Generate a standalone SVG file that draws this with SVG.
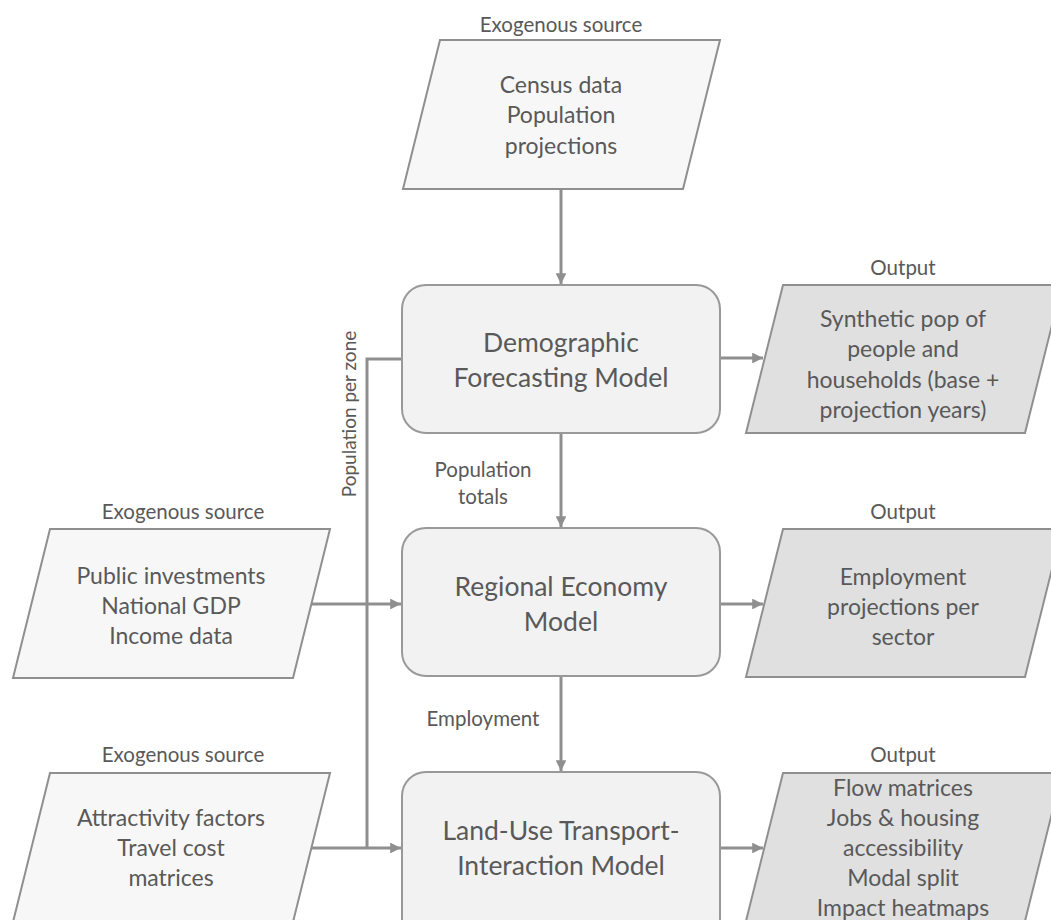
<svg xmlns="http://www.w3.org/2000/svg" width="1051" height="920" viewBox="0 0 1051 920">
  <style>
    text { font-family: Lato, "Open Sans", "Liberation Sans", sans-serif; fill: #595959; text-anchor: middle; }
    .cap { font-size: 20.5px; }
    .side { font-size: 19px; }
    .body { font-size: 23px; }
    .model { font-size: 26.5px; }
    .input { fill: #f7f7f7; stroke: #8f8f8f; stroke-width: 2; }
    .output { fill: #e0e0e0; stroke: #8f8f8f; stroke-width: 2; }
    .box { fill: #f2f2f2; stroke: #999999; stroke-width: 2; }
    .edge { fill: none; stroke: #8f8f8f; stroke-width: 3; }
  </style>
  <defs>
    <marker id="arrow" viewBox="0 0 10 10" refX="10" refY="5" markerWidth="3.6" markerHeight="3.6" markerUnits="strokeWidth" orient="auto">
      <path d="M0,0 L10,5 L0,10 z" fill="#8f8f8f"/>
    </marker>
  </defs>
  <rect width="1051" height="920" fill="#ffffff"/>

  <!-- connectors -->
  <g id="connectors">
    <path class="edge" d="M561,190 V284" marker-end="url(#arrow)"/>
    <path class="edge" d="M561,433 V527" marker-end="url(#arrow)"/>
    <path class="edge" d="M561,676 V771" marker-end="url(#arrow)"/>
    <path class="edge" d="M720,358 H763" marker-end="url(#arrow)"/>
    <path class="edge" d="M720,604 H763" marker-end="url(#arrow)"/>
    <path class="edge" d="M720,848 H763" marker-end="url(#arrow)"/>
    <path class="edge" d="M312,604 H401" marker-end="url(#arrow)"/>
    <path class="edge" d="M312,848 H401" marker-end="url(#arrow)"/>
    <path class="edge" d="M402,359 H367 V848"/>
    <text class="cap" x="483" y="477">Population</text>
    <text class="cap" x="483" y="504">totals</text>
    <text class="cap" x="483" y="726">Employment</text>
    <text class="side" transform="translate(355.5,414) rotate(-90)">Population per zone</text>
  </g>

  <!-- exogenous inputs -->
  <g id="census">
    <text class="cap" x="561" y="32">Exogenous source</text>
    <polygon class="input" points="440,40 720,40 683,189 403,189"/>
    <text class="body" x="561" y="93">Census data</text>
    <text class="body" x="561" y="123">Population</text>
    <text class="body" x="561" y="154">projections</text>
  </g>
  <g id="economic-inputs">
    <text class="cap" x="183" y="519">Exogenous source</text>
    <polygon class="input" points="50,529 330,529 293,678 13,678"/>
    <text class="body" x="171" y="584">Public investments</text>
    <text class="body" x="171" y="614">National GDP</text>
    <text class="body" x="171" y="644">Income data</text>
  </g>
  <g id="transport-inputs">
    <text class="cap" x="183" y="762">Exogenous source</text>
    <polygon class="input" points="50,773 330,773 293,922 13,922"/>
    <text class="body" x="171" y="826">Attractivity factors</text>
    <text class="body" x="171" y="856">Travel cost</text>
    <text class="body" x="171" y="886">matrices</text>
  </g>

  <!-- models -->
  <g id="demographic-model">
    <rect class="box" x="402" y="285" width="318" height="148" rx="24"/>
    <text class="model" x="561" y="352">Demographic</text>
    <text class="model" x="561" y="387">Forecasting Model</text>
  </g>
  <g id="regional-economy-model">
    <rect class="box" x="402" y="528" width="318" height="148" rx="24"/>
    <text class="model" x="561" y="596">Regional Economy</text>
    <text class="model" x="561" y="631">Model</text>
  </g>
  <g id="luti-model">
    <rect class="box" x="402" y="772" width="318" height="170" rx="24"/>
    <text class="model" x="561" y="840">Land-Use Transport-</text>
    <text class="model" x="561" y="875">Interaction Model</text>
  </g>

  <!-- outputs -->
  <g id="synthetic-population">
    <text class="cap" x="903" y="275">Output</text>
    <polygon class="output" points="783,285 1062,285 1025,433 746,433"/>
    <text class="body" x="903" y="327">Synthetic pop of</text>
    <text class="body" x="903" y="357">people and</text>
    <text class="body" x="903" y="388">households (base +</text>
    <text class="body" x="903" y="418">projection years)</text>
  </g>
  <g id="employment-projections">
    <text class="cap" x="903" y="519">Output</text>
    <polygon class="output" points="783,529 1062,529 1025,677 746,677"/>
    <text class="body" x="903" y="585">Employment</text>
    <text class="body" x="903" y="615">projections per</text>
    <text class="body" x="903" y="645">sector</text>
  </g>
  <g id="luti-outputs">
    <text class="cap" x="903" y="762">Output</text>
    <polygon class="output" points="783,773 1062,773 1025,921 746,921"/>
    <text class="body" x="903" y="796">Flow matrices</text>
    <text class="body" x="903" y="826">Jobs &amp; housing</text>
    <text class="body" x="903" y="856">accessibility</text>
    <text class="body" x="903" y="886">Modal split</text>
    <text class="body" x="903" y="916">Impact heatmaps</text>
  </g>
</svg>
